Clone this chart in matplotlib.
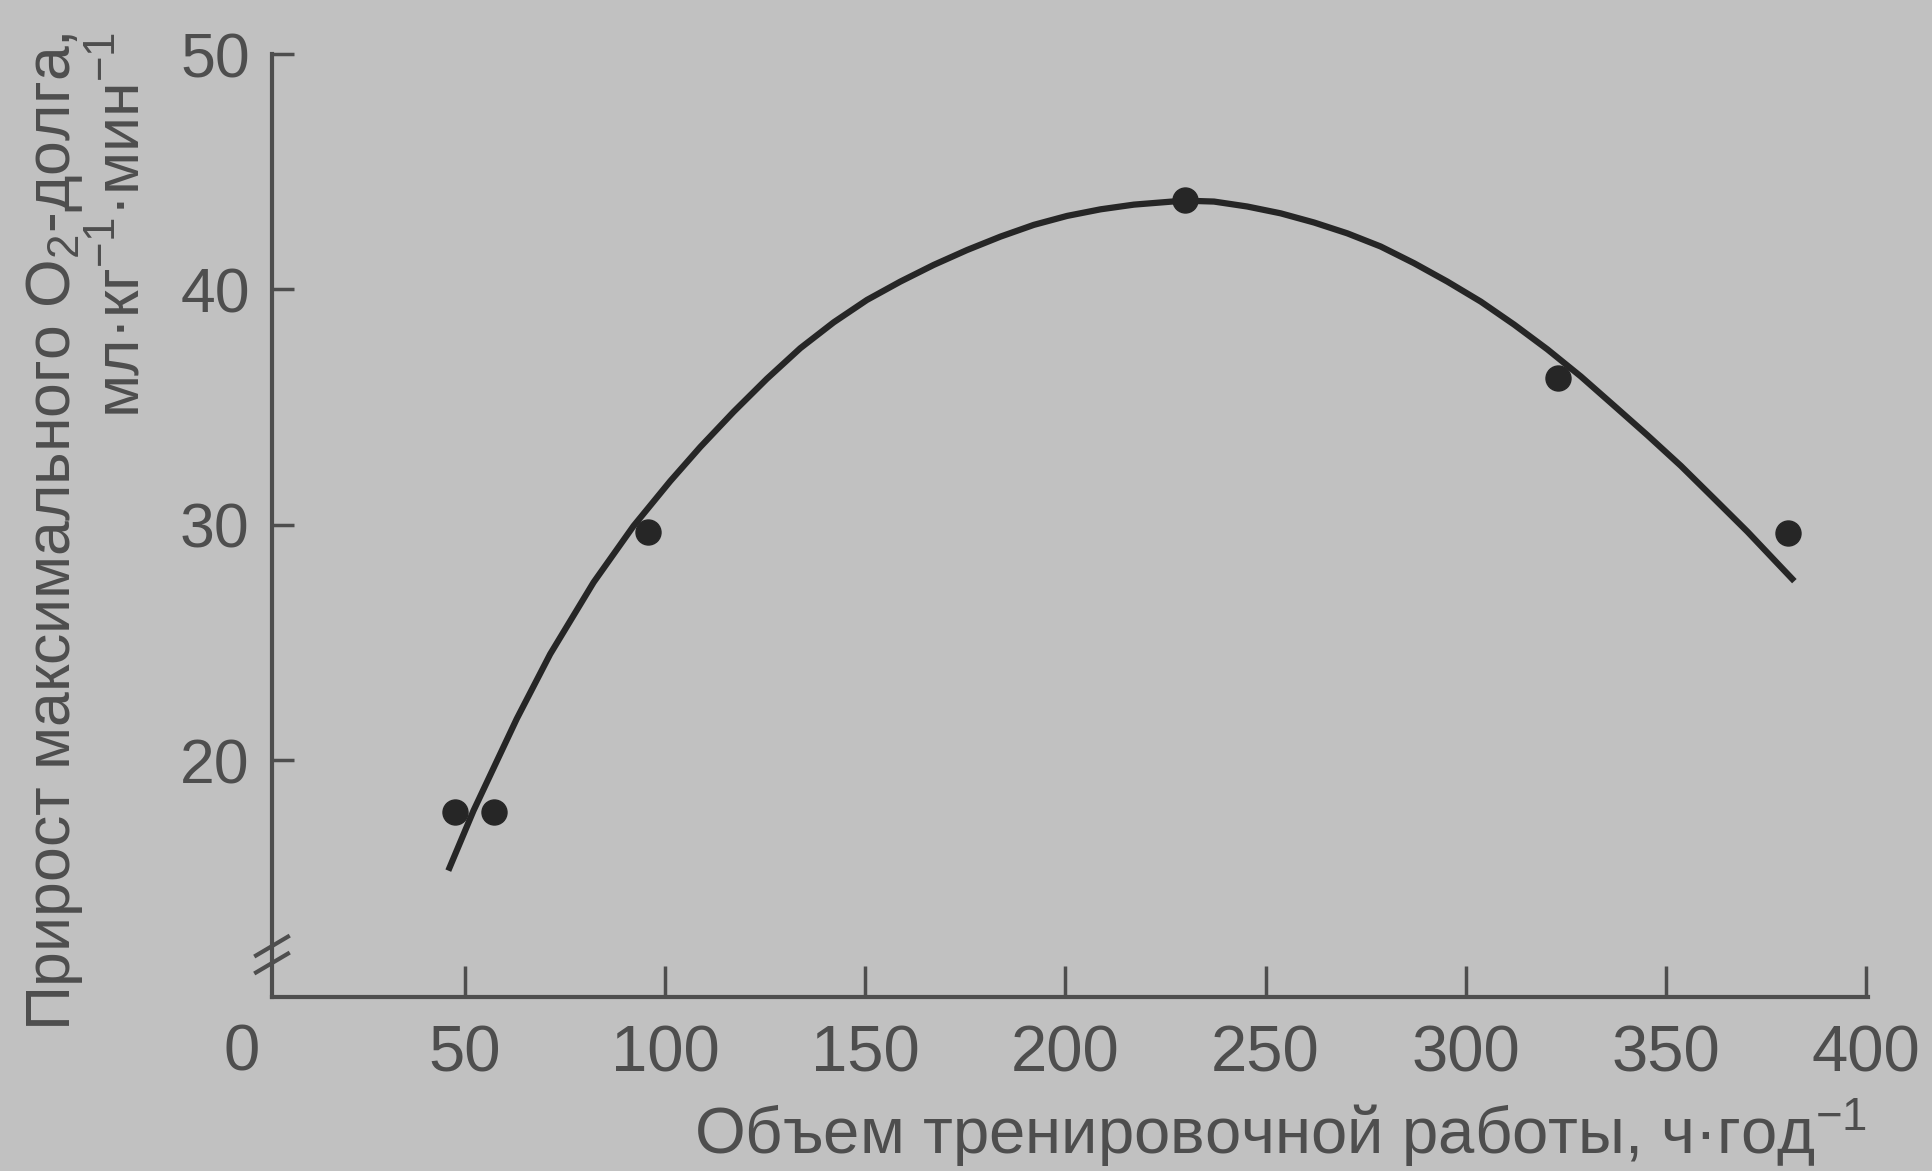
import matplotlib
matplotlib.use("Agg")
import matplotlib.pyplot as plt

# observed points
volume = [47.5, 57.1, 95.8, 229.8, 323.0, 380.4]
gain = [17.8, 17.8, 29.7, 43.8, 36.25, 29.65]

# regression curve
curve_x = [45.8, 52.1, 62.9, 71.25, 82.1, 92.1, 101.25, 108.75, 117.1, 125.4, 133.75,
           142.1, 150.4, 158.75, 167.1, 175.4, 183.75, 192.1, 200.4, 208.75, 217.1,
           229.6, 237.1, 245.4, 253.75, 262.1, 270.4, 278.75, 287.1, 295.4, 303.75,
           312.1, 320.4, 328.75, 337.1, 345.4, 353.75, 362.1, 370.4, 378.75, 382.1]
curve_y = [15.3, 17.85, 21.75, 24.5, 27.55, 29.95, 31.85, 33.3, 34.8, 36.2, 37.5,
           38.6, 39.55, 40.33, 41.04, 41.67, 42.24, 42.74, 43.12, 43.4, 43.6,
           43.77, 43.73, 43.52, 43.23, 42.84, 42.38, 41.82, 41.11, 40.33, 39.48,
           38.5, 37.45, 36.3, 35.05, 33.8, 32.5, 31.1, 29.7, 28.2, 27.6]

xticks = [50, 100, 150, 200, 250, 300, 350, 400]
yticks = [20, 30, 40, 50]

bg = '#c1c1c1'
ink = '#4e4e4e'
dark = '#262626'

plt.rcParams['font.family'] = ['Liberation Sans', 'DejaVu Sans']
plt.rcParams['mathtext.fontset'] = 'custom'
plt.rcParams['mathtext.rm'] = 'Liberation Sans'

fig = plt.figure(figsize=(19.32, 11.71), dpi=100, facecolor=bg)
ax = fig.add_axes([272/1932, 1 - 997/1171, (1868 - 272)/1932, (997 - 54)/1171])
ax.set_facecolor(bg)

ax.plot(curve_x, curve_y, color=dark, lw=4.5, solid_capstyle='butt', solid_joinstyle='round')
ax.plot(volume, gain, 'o', color=dark, ms=18, mec=dark)

ax.set_xlim(1.75, 400.5)
ax.set_ylim(9.93, 50)

for s in ['top', 'right']:
    ax.spines[s].set_visible(False)
for s in ['left', 'bottom']:
    ax.spines[s].set_color(ink)
    ax.spines[s].set_linewidth(3)

ax.set_xticks(xticks)
ax.set_yticks(yticks)
ax.tick_params(axis='x', direction='in', length=22, width=2.5, color=ink,
               labelsize=47, labelcolor=ink, pad=20)
ax.tick_params(axis='y', direction='in', length=16, width=2.5, color=ink,
               labelsize=45, labelcolor=ink, pad=16)

# "0" at the origin, in line with the x tick labels
ax.text(-5.75, -0.0594, '0', transform=ax.get_xaxis_transform(), ha='center', va='center',
        fontsize=47, color=ink)

# axis break marks on the y axis
ax.plot([0.0, 0.006], [0.045, 0.045], transform=ax.transAxes, color=bg, lw=6, clip_on=False)
for yb in [0.036, 0.054]:
    ax.plot([-0.010, 0.010], [yb - 0.010, yb + 0.010], transform=ax.transAxes,
            color=ink, lw=3, clip_on=False)

fig.text(1867/1932, 1 - 1133/1171, 'Объем тренировочной работы, ч·год$\\mathregular{^{-1}}$',
         ha='right', va='center', fontsize=47, color=ink)
fig.text(55/1932, 1 - 32/1171, 'Прирост максимального O$\\mathregular{_2}$-долга,',
         rotation=90, ha='center', va='top', fontsize=45, color=ink)
fig.text(122/1932, 1 - 32/1171, 'мл·кг$\\mathregular{^{-1}}$·мин$\\mathregular{^{-1}}$',
         rotation=90, ha='center', va='top', fontsize=45, color=ink)

fig.savefig('out.png', dpi=100, facecolor=bg)
